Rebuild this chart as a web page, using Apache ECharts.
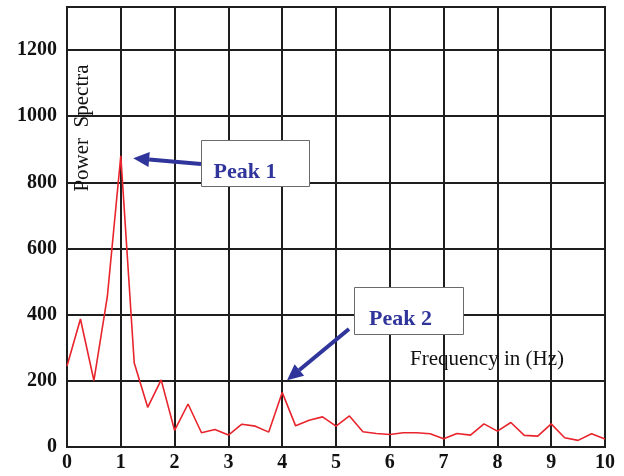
<!DOCTYPE html>
<html>
<head>
<meta charset="utf-8">
<title>Power Spectra</title>
<script src="https://cdn.jsdelivr.net/npm/echarts@6/dist/echarts.min.js"></script>
<style>
  html, body { margin: 0; padding: 0; background: #fff; }
  #chart { width: 624px; height: 476px; }
</style>
</head>
<body>
<div id="chart"></div>
<script>
// Frequency samples (Hz), spaced every 0.25 Hz
const frequency = [0, 0.25, 0.5, 0.75, 1, 1.25, 1.5, 1.75, 2, 2.25, 2.5, 2.75, 3, 3.25, 3.5, 3.75,
  4, 4.25, 4.5, 4.75, 5, 5.25, 5.5, 5.75, 6, 6.25, 6.5, 6.75, 7, 7.25, 7.5, 7.75,
  8, 8.25, 8.5, 8.75, 9, 9.25, 9.5, 9.75, 10];

// Power spectrum amplitude at each frequency
const power = [245, 387, 201, 455, 880, 254, 120, 203, 50, 130, 43, 53, 36, 69, 63, 45,
  165, 64, 81, 91, 63, 94, 46, 41, 38, 43, 43, 40, 25, 41, 36, 70,
  48, 74, 35, 33, 70, 28, 20, 40, 24];

const xTicks = [0, 1, 2, 3, 4, 5, 6, 7, 8, 9, 10];
const yTicks = [0, 200, 400, 600, 800, 1000, 1200];

// Callouts: label text, box (px), label offset inside the box, arrow tail (px), arrow tip in data units
const callouts = [
  { text: 'Peak 1', box: [201, 140, 108, 46], label: [-10, 9], tail: [201, 164], tip: [1.23, 873] },
  { text: 'Peak 2', box: [354, 287, 109, 47], label: [-8, 9], tail: [349, 329], tip: [4.09, 202] }
];

const serif = '"Liberation Serif", "DejaVu Serif", serif';
const gridColor = '#1e1e1e';
const calloutBlue = '#2f359a';

const chart = echarts.init(document.getElementById('chart'), null, { renderer: 'canvas' });

const option = {
  animation: false,
  backgroundColor: '#ffffff',
  grid: {
    left: 67, right: 19, top: 7, bottom: 29,
    show: true, borderColor: gridColor, borderWidth: 2, backgroundColor: 'transparent'
  },
  xAxis: {
    type: 'value',
    min: xTicks[0], max: xTicks[xTicks.length - 1], interval: 1,
    axisLine: { show: false },
    axisTick: { show: false },
    splitLine: { show: true, lineStyle: { color: gridColor, width: 2 } },
    axisLabel: {
      margin: 6, color: '#111', fontFamily: serif, fontWeight: 'bold', fontSize: 20,
      formatter: v => xTicks.includes(v) ? String(v) : ''
    }
  },
  yAxis: {
    type: 'value',
    min: 0, max: 1330, interval: 200,
    axisLine: { show: false },
    axisTick: { show: false },
    splitLine: { show: true, lineStyle: { color: gridColor, width: 2 } },
    axisLabel: {
      margin: 10, color: '#111', fontFamily: serif, fontWeight: 'bold', fontSize: 20,
      showMaxLabel: false,
      formatter: v => yTicks.includes(v) ? String(v) : ''
    }
  },
  series: [{
    type: 'line',
    data: frequency.map((f, i) => [f, power[i]]),
    symbol: 'none',
    lineStyle: { color: '#e8242c', width: 1.6 },
    z: 3
  }]
};

chart.setOption(option);

// Build the axis titles and the "Peak" callouts on top of the plot
function arrowHead(tail, tip, len, half) {
  const dx = tip[0] - tail[0], dy = tip[1] - tail[1];
  const d = Math.hypot(dx, dy);
  const ux = dx / d, uy = dy / d;
  const bx = tip[0] - ux * len, by = tip[1] - uy * len;
  return {
    base: [bx, by],
    points: [tip, [bx - uy * half, by + ux * half], [bx + uy * half, by - ux * half]]
  };
}

const elements = [
  {
    type: 'text',
    x: 82, y: 128, rotation: Math.PI / 2,
    style: {
      text: 'Power  Spectra', fill: '#111', font: '21px ' + serif,
      align: 'center', verticalAlign: 'middle'
    },
    z: 10
  },
  {
    type: 'text',
    x: 487, y: 359,
    style: {
      text: 'Frequency in (Hz)', fill: '#111', font: '21px ' + serif,
      align: 'center', verticalAlign: 'middle'
    },
    z: 10
  }
];

callouts.forEach(c => {
  const tip = chart.convertToPixel({ gridIndex: 0 }, c.tip);
  const head = arrowHead(c.tail, tip, 16, 7.5);
  elements.push({
    type: 'line',
    shape: { x1: c.tail[0], y1: c.tail[1], x2: head.base[0], y2: head.base[1] },
    style: { stroke: calloutBlue, lineWidth: 4 },
    z: 11
  });
  elements.push({
    type: 'polygon',
    shape: { points: head.points },
    style: { fill: calloutBlue },
    z: 11
  });
  elements.push({
    type: 'rect',
    shape: { x: c.box[0] + 0.5, y: c.box[1] + 0.5, width: c.box[2], height: c.box[3] },
    style: { fill: '#ffffff', stroke: '#6a6a6a', lineWidth: 1 },
    z: 12
  });
  elements.push({
    type: 'text',
    x: c.box[0] + c.box[2] / 2 + c.label[0], y: c.box[1] + c.box[3] / 2 + c.label[1],
    style: {
      text: c.text, fill: calloutBlue, font: 'bold 22px ' + serif,
      align: 'center', verticalAlign: 'middle'
    },
    z: 13
  });
});

chart.setOption({ graphic: { elements: elements } });
</script>
</body>
</html>
